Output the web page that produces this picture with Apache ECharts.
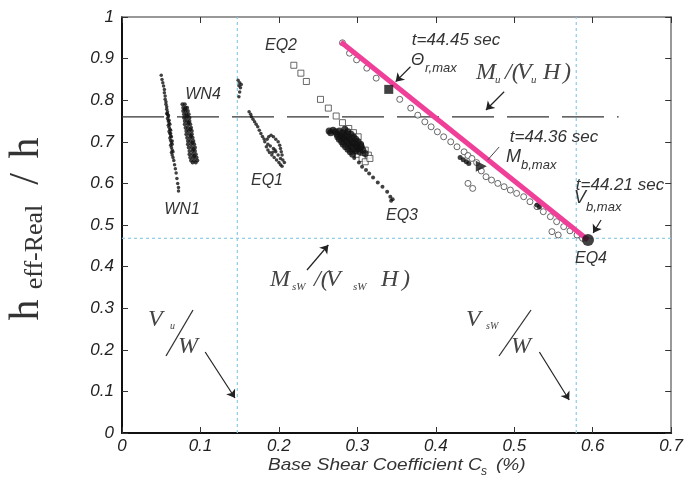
<!DOCTYPE html>
<html><head><meta charset="utf-8">
<script src="https://cdn.jsdelivr.net/npm/echarts/dist/echarts.min.js"></script>
<style>html,body{margin:0;padding:0;background:#fff}#c{width:686px;height:479px}</style>
</head><body><div id="c"></div>
<script>
// ---------- axis definition ----------
const xRange = [0, 0.7], xStep = 0.1;
const yRange = [0, 1], yStep = 0.1;

// ---------- reference lines ----------
const muLine = [[0, 0.76], [0.633, 0.76]];          // Mu/(Vu H) dashed
const mswLine = [[0, 0.468], [0.7, 0.468]];         // MsW/(VsW H) dotted
const vuLine = [[0.147, 0], [0.147, 1]];            // Vu/W dotted
const vswLine = [[0.579, 0], [0.579, 1]];           // VsW/W dotted
const trendLine = [[0.279, 0.94], [0.594, 0.464]];  // pink line

// ---------- test data ----------
const wn1 = [[0.050,0.860],[0.051,0.850],[0.052,0.842],[0.053,0.834],[0.054,0.826],[0.054,0.818],[0.055,0.810],[0.055,0.802],[0.056,0.796],[0.056,0.790],[0.057,0.784],[0.057,0.778],[0.058,0.772],[0.058,0.766],[0.059,0.760],[0.058,0.756],[0.059,0.750],[0.060,0.745],[0.059,0.740],[0.060,0.735],[0.061,0.730],[0.060,0.725],[0.061,0.720],[0.062,0.714],[0.061,0.709],[0.062,0.703],[0.063,0.698],[0.062,0.692],[0.063,0.686],[0.064,0.680],[0.063,0.674],[0.064,0.668],[0.065,0.662],[0.066,0.655],[0.067,0.645],[0.068,0.635],[0.069,0.625],[0.070,0.612],[0.071,0.600],[0.072,0.590],[0.072,0.582],[0.057,0.768],[0.060,0.752],[0.062,0.728],[0.063,0.712],[0.064,0.694],[0.065,0.676],[0.059,0.764],[0.061,0.742],[0.062,0.720],[0.064,0.702]];
const wn4 = [[0.077,0.790],[0.080,0.790],[0.078,0.782],[0.081,0.782],[0.083,0.782],[0.078,0.774],[0.081,0.774],[0.084,0.774],[0.079,0.766],[0.082,0.766],[0.085,0.766],[0.079,0.758],[0.082,0.758],[0.086,0.758],[0.080,0.750],[0.083,0.750],[0.086,0.750],[0.080,0.742],[0.084,0.742],[0.087,0.742],[0.081,0.734],[0.084,0.734],[0.088,0.734],[0.082,0.726],[0.085,0.726],[0.089,0.726],[0.082,0.718],[0.086,0.718],[0.089,0.718],[0.083,0.710],[0.087,0.710],[0.090,0.710],[0.084,0.702],[0.087,0.702],[0.091,0.702],[0.084,0.694],[0.088,0.694],[0.092,0.694],[0.085,0.686],[0.089,0.686],[0.093,0.686],[0.086,0.678],[0.090,0.678],[0.093,0.678],[0.086,0.670],[0.090,0.670],[0.094,0.670],[0.087,0.662],[0.091,0.662],[0.095,0.662],[0.088,0.655],[0.092,0.655],[0.096,0.655],[0.090,0.650],[0.094,0.650],[0.080,0.778],[0.083,0.762],[0.085,0.746],[0.087,0.730],[0.088,0.714],[0.090,0.698],[0.091,0.682],[0.092,0.666]];
const eq1 = [[0.148,0.848],[0.150,0.842],[0.152,0.838],[0.149,0.835],[0.151,0.830],[0.150,0.820],[0.149,0.808],[0.162,0.772],[0.164,0.766],[0.165,0.760],[0.167,0.754],[0.169,0.748],[0.171,0.742],[0.173,0.736],[0.175,0.728],[0.177,0.720],[0.179,0.713],[0.181,0.707],[0.182,0.700],[0.185,0.706],[0.187,0.712],[0.190,0.716],[0.193,0.712],[0.196,0.706],[0.199,0.700],[0.201,0.692],[0.202,0.684],[0.203,0.676],[0.204,0.668],[0.202,0.660],[0.199,0.668],[0.196,0.676],[0.193,0.684],[0.189,0.690],[0.186,0.694],[0.184,0.688],[0.186,0.680],[0.188,0.674],[0.191,0.668],[0.194,0.662],[0.197,0.656],[0.200,0.650],[0.202,0.645],[0.204,0.641],[0.207,0.650],[0.205,0.656],[0.192,0.675],[0.195,0.680]];
const eq2 = [[0.219,0.884],[0.228,0.865],[0.235,0.845],[0.253,0.802],[0.263,0.781],[0.273,0.762],[0.281,0.746],[0.289,0.732],[0.295,0.722],[0.301,0.712],[0.287,0.715],[0.297,0.700],[0.304,0.690],[0.310,0.680],[0.294,0.684],[0.300,0.670],[0.306,0.660],[0.310,0.652],[0.314,0.668],[0.316,0.660]];
const eq3 = [[0.264,0.726],[0.266,0.722],[0.269,0.728],[0.272,0.724],[0.274,0.718],[0.277,0.726],[0.279,0.714],[0.281,0.722],[0.283,0.708],[0.284,0.716],[0.286,0.702],[0.287,0.712],[0.289,0.696],[0.290,0.706],[0.292,0.690],[0.293,0.700],[0.295,0.684],[0.296,0.696],[0.298,0.678],[0.299,0.690],[0.301,0.684],[0.303,0.676],[0.305,0.688],[0.307,0.680],[0.310,0.672],[0.277,0.706],[0.280,0.700],[0.282,0.694],[0.285,0.688],[0.288,0.682],[0.291,0.676],[0.294,0.670],[0.275,0.712],[0.284,0.730],[0.288,0.724],[0.292,0.718],[0.295,0.712],[0.298,0.706],[0.301,0.700],[0.304,0.694]];
const eq3Tail = [[0.296,0.661],[0.302,0.650],[0.306,0.640],[0.311,0.632],[0.315,0.624],[0.320,0.614],[0.326,0.602],[0.332,0.592],[0.338,0.580],[0.342,0.568],[0.345,0.562],[0.343,0.558]];
const eq4 = [[0.281,0.938],[0.290,0.913],[0.299,0.897],[0.312,0.877],[0.324,0.853],[0.354,0.802],[0.368,0.781],[0.377,0.764],[0.386,0.748],[0.394,0.736],[0.402,0.724],[0.410,0.712],[0.419,0.700],[0.427,0.688],[0.436,0.676],[0.441,0.667],[0.446,0.660],[0.452,0.650],[0.458,0.630],[0.464,0.616],[0.471,0.608],[0.479,0.600],[0.487,0.592],[0.495,0.584],[0.503,0.576],[0.512,0.568],[0.520,0.556],[0.529,0.544],[0.537,0.532],[0.546,0.520],[0.554,0.508],[0.563,0.496],[0.571,0.486],[0.580,0.476],[0.587,0.468],[0.441,0.600],[0.447,0.588],[0.548,0.484],[0.556,0.476]];
const eq4Dark = [[0.431,0.662],[0.435,0.657],[0.439,0.652],[0.442,0.648],[0.529,0.548],[0.532,0.543]];
const thetaMax = [[0.340,0.826]];
const mbMax = [[0.458,0.641]];
const vbMax = [[0.594,0.464]];

// ---------- annotation arrows (data coords) ----------
const arrows = [
  [[0.3677,0.8805],[0.3488,0.8445]],
  [[0.4871,0.8204],[0.4639,0.7764]],
  [[0.6106,0.512],[0.6005,0.4808]],
  [[0.2358,0.3918],[0.2630,0.4519]],
  [[0.106,0.1947],[0.144,0.0841]],
  [[0.532,0.1947],[0.570,0.0793]]
];
const plainLines = [[[0.4807,0.6875],[0.4661,0.6563]]];

const SANS = 'Liberation Sans, Arial, sans-serif';
const SERIF = 'Liberation Serif, Times New Roman, serif';
const fmt = v => String(Math.round(v * 10) / 10);

function dotSeries(data, size, extra) {
  return Object.assign({
    type: 'scatter', data, symbol: 'circle', symbolSize: size,
    itemStyle: { color: '#111' }, silent: true
  }, extra || {});
}
function lineSeries(data, style, z) {
  return { type: 'line', data, symbol: 'none', lineStyle: style, z: z || 2, silent: true };
}

const chart = echarts.init(document.getElementById('c'));
const baseAxisX = { type: 'value', min: xRange[0], max: xRange[1], interval: xStep, splitLine: { show: false } };
const baseAxisY = { type: 'value', min: yRange[0], max: yRange[1], interval: yStep, splitLine: { show: false } };
const tickInside = { inside: true, length: 6, lineStyle: { color: '#333', width: 1 } };

const dotted = { color: '#8ccbe6', width: 1.2, type: [3, 3] };

chart.setOption({
  animation: false,
  backgroundColor: '#fff',
  grid: { left: 122, right: 11, top: 17, bottom: 46 },
  xAxis: [
    Object.assign({}, baseAxisX, {
      position: 'bottom',
      axisLine: { onZero: false, lineStyle: { color: '#111', width: 2 } },
      axisTick: tickInside,
      axisLabel: { formatter: fmt, fontSize: 17, fontStyle: 'italic', fontFamily: SANS, color: '#222', margin: 5 }
    }),
    Object.assign({}, baseAxisX, {
      position: 'top',
      axisLine: { onZero: false, lineStyle: { color: '#777', width: 1.5 } },
      axisTick: tickInside, axisLabel: { show: false }
    })
  ],
  yAxis: [
    Object.assign({}, baseAxisY, {
      position: 'left',
      axisLine: { onZero: false, lineStyle: { color: '#111', width: 2 } },
      axisTick: tickInside,
      axisLabel: { formatter: fmt, fontSize: 17, fontStyle: 'italic', fontFamily: SANS, color: '#222', margin: 8 }
    }),
    Object.assign({}, baseAxisY, {
      position: 'right',
      axisLine: { onZero: false, lineStyle: { color: '#777', width: 1.5 } },
      axisTick: tickInside, axisLabel: { show: false }
    })
  ],
  series: [
    lineSeries(mswLine, dotted, 1),
    lineSeries(vuLine, dotted, 1),
    lineSeries(vswLine, dotted, 1),
    lineSeries(muLine, { color: '#333', width: 1.2, type: [42, 13] }, 2),
    dotSeries(wn1, 3.5),
    dotSeries(wn4, 4),
    dotSeries(eq1, 3.5),
    dotSeries(eq2, 6, { symbol: 'rect', itemStyle: { color: '#fff', borderColor: '#444', borderWidth: 1 } }),
    dotSeries(eq3, 7),
    dotSeries(eq3Tail, 4),
    dotSeries(eq4, 6, { itemStyle: { color: '#fff', borderColor: '#444', borderWidth: 1 } }),
    dotSeries(eq4Dark, 5),
    lineSeries(trendLine, { color: '#ef3f98', width: 5 }, 5),
    dotSeries(thetaMax, 9, { symbol: 'rect', z: 6 }),
    dotSeries(mbMax, 11, { symbol: 'triangle', symbolRotate: -90, z: 6 }),
    dotSeries(vbMax, 12, { z: 6 }),
    {
      type: 'lines', coordinateSystem: 'cartesian2d', silent: true, z: 7,
      symbol: ['none', 'arrow'], symbolSize: [0, 8],
      lineStyle: { color: '#222', width: 1.2, opacity: 1 },
      data: arrows.map(c => ({ coords: c }))
    },
    {
      type: 'lines', coordinateSystem: 'cartesian2d', silent: true, z: 7,
      symbol: 'none',
      lineStyle: { color: '#444', width: 1, opacity: 1 },
      data: plainLines.map(c => ({ coords: c }))
    }
  ]
});

// ---------- text annotations (pixel placement) ----------
function t(text, x, y, size, opts) {
  opts = opts || {};
  return {
    type: 'text', x, y, rotation: opts.rot || 0, scaleX: opts.sx || 1, z: 100, silent: true,
    style: {
      text, fontSize: size, fontFamily: opts.serif ? SERIF : SANS,
      fontStyle: opts.normal ? 'normal' : 'italic', fill: opts.color || '#333',
      align: opts.align || 'center', verticalAlign: 'middle'
    }
  };
}
const S = { serif: true, align: 'left', color: '#444' };
const L = { align: 'left' };
const R = Math.PI / 2;
const g = [
  t('EQ2', 281, 46, 16), t('WN4', 203, 95, 16), t('WN1', 182, 210, 16),
  t('EQ1', 267, 181, 16), t('EQ3', 402, 216, 16), t('EQ4', 591, 259, 16),
  t('t=44.45 sec', 456, 40, 17), t('t=44.36 sec', 554, 137, 17), t('t=44.21 sec', 620, 185, 17),
  t('Θ', 411, 60, 17, L), t('r,max', 425, 68, 13, L),
  t('M', 506, 157, 18, L), t('b,max', 521, 165, 13, L),
  t('V', 574, 198, 18, L), t('b,max', 586, 207, 13, L),
  // Mu/(Vu H)
  t('M', 476, 73, 24, S), t('u', 495, 80, 11, S), t('/(', 505, 73, 24, S), t('V', 517, 73, 24, S),
  t('u', 531, 80, 11, S), t('H', 543, 73, 24, S), t(')', 563, 73, 24, S),
  // MsW/(VsW H)
  t('M', 270, 280, 24, S), t('sW', 292, 287, 11, S), t('/(', 314, 280, 24, S), t('V', 326, 280, 24, S),
  t('sW', 353, 287, 11, S), t('H', 381, 280, 24, S), t(')', 402, 280, 24, S),
  // Vu/W and VsW/W
  t('V', 148, 320, 24, S), t('u', 170, 326, 10, S), t('W', 178, 347, 24, S),
  t('V', 466, 320, 24, S), t('sW', 486, 326, 10, S), t('W', 511, 347, 24, S),
  { type: 'line', z: 100, silent: true, shape: { x1: 193, y1: 310, x2: 166, y2: 356 }, style: { stroke: '#333', lineWidth: 1.3 } },
  { type: 'line', z: 100, silent: true, shape: { x1: 531, y1: 310, x2: 499, y2: 356 }, style: { stroke: '#333', lineWidth: 1.3 } },
  // axis titles
  t('Base Shear Coefficient C', 268, 465, 17, { align: 'left', color: '#333', sx: 1.12 }),
  t('s', 481, 472, 12, { align: 'left', color: '#333' }),
  t('(%)', 496, 465, 17, { align: 'left', color: '#333', sx: 1.12 }),
  t('h', 27, 310, 42, { serif: true, normal: true, rot: R, color: '#333' }),
  t('eff-Real', 35, 247, 26, { serif: true, normal: true, rot: R, color: '#333' }),
  t('/', 27, 179, 42, { serif: true, normal: true, rot: R, color: '#333' }),
  t('h', 27, 148, 42, { serif: true, normal: true, rot: R, color: '#333' })
];
chart.setOption({ graphic: g });
</script>
</body></html>
